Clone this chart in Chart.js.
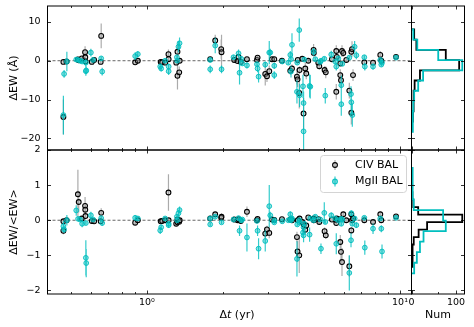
<!DOCTYPE html>
<html><head><meta charset="utf-8">
<script src="https://cdn.jsdelivr.net/npm/chart.js@4"></script>
<style>
html,body{margin:0;padding:0;background:#fff;}
#wrap{position:relative;width:474px;height:327px;overflow:hidden;}
canvas{position:absolute;left:0;top:0;}
</style></head><body>
<div id="wrap">
<canvas id="cTop" width="474" height="327"></canvas>
<canvas id="cBot" width="474" height="327"></canvas>
<canvas id="hTop" width="474" height="327"></canvas>
<canvas id="hBot" width="474" height="327"></canvas>
</div>
<script>
// ---------------- data ----------------
const civT = [0.468,0.468,0.482,0.534,0.538,0.553,0.570,0.571,0.572,0.606,0.619,0.660,0.657,0.899,0.921,1.134,1.149,1.181,1.217,1.219,1.306,1.321,1.321,1.342,1.348,1.779,1.862,1.966,1.972,2.213,2.281,2.302,2.349,2.485,2.722,2.737,2.935,2.981,3.044,3.120,3.186,3.417,3.686,3.743,3.916,3.937,3.999,4.010,3.945,4.159,4.110,4.224,4.262,4.341,4.556,4.564,4.755,4.797,5.035,5.090,5.384,5.600,5.626,5.600,5.808,5.808,5.846,5.899,5.969,6.135,6.305,6.421,6.421,6.462,6.521,7.226,7.823,8.357,8.434,9.643];
const civEW = [-0.3,-14.5,-0.2,0.3,0.1,0.6,2.2,0.9,-0.2,-0.3,0.2,6.4,-0.3,-0.4,0.0,-0.3,-0.4,-0.5,1.7,0.4,-0.5,2.3,-3.9,-3.0,0.0,0.4,5.2,3.0,2.2,0.2,-0.1,1.0,-0.3,0.4,0.2,0.8,-3.4,-4.0,-2.7,0.4,0.4,0.0,-2.6,-2.0,-4.1,-4.8,-8.3,-2.4,0.2,-13.6,0.5,-2.0,-3.3,0.0,2.8,2.0,-0.5,-1.4,-2.4,-3.0,0.4,2.5,1.0,-8.0,-0.7,-3.7,-5.0,2.5,2.0,0.2,-7.7,2.3,-13.4,3.0,-3.7,-0.4,-0.5,1.5,0.0,1.0];
const civEWErr = [0.5,4.5,0.5,0.8,0.5,0.5,1.5,1.0,0.5,0.5,0.5,3.2,0.5,0.5,0.5,0.5,0.5,0.5,1.2,0.5,0.5,2.0,3.5,1.5,0.5,0.5,1.5,2.5,4.5,0.5,0.5,0.8,0.5,0.5,0.5,0.5,3.0,1.5,1.5,0.5,0.5,0.5,1.0,1.0,2.0,2.0,4.0,1.0,0.5,4.0,0.5,1.5,1.5,0.5,1.5,1.0,0.5,1.0,1.0,1.5,0.5,1.5,0.5,2.0,0.5,1.5,2.0,1.5,1.0,0.5,2.0,1.5,3.0,2.0,1.5,0.5,0.5,1.0,0.5,0.5];
const civFrac = [-0.03,-0.30,0.0,0.74,0.52,0.05,0.41,0.30,0.12,-0.02,-0.03,0.21,-0.03,-0.07,0.0,-0.03,-0.02,0.0,0.79,0.0,-0.10,0.02,-0.06,-0.04,0.0,0.05,0.17,0.07,0.10,0.02,0.0,0.03,-0.02,0.24,0.0,0.04,-0.38,-0.26,-0.36,0.02,0.01,0.03,0.02,0.0,-0.48,-0.89,-1.00,0.05,0.0,-0.12,-0.05,-0.27,-0.15,0.08,0.05,0.0,0.03,-0.05,-0.31,-0.43,0.02,0.0,0.05,-0.08,0.03,-0.62,-0.90,-1.19,0.17,0.0,-1.31,-0.29,0.17,0.0,0.05,0.0,-0.05,0.17,0.0,0.11];
const civFracErr = [0.05,0.10,0.05,0.70,0.30,0.05,0.25,0.20,0.10,0.05,0.05,0.13,0.05,0.05,0.05,0.05,0.05,0.05,0.52,0.05,0.05,0.05,0.06,0.05,0.05,0.05,0.06,0.08,0.10,0.04,0.04,0.04,0.04,0.15,0.04,0.04,0.15,0.10,0.15,0.04,0.04,0.04,0.04,0.04,0.15,0.30,0.50,0.05,0.04,0.08,0.04,0.10,0.08,0.05,0.05,0.04,0.04,0.05,0.10,0.10,0.04,0.05,0.05,0.06,0.04,0.20,0.30,0.40,0.08,0.04,0.30,0.10,0.08,0.05,0.05,0.04,0.04,0.08,0.04,0.05];

const mgT = [0.468,0.471,0.483,0.526,0.535,0.545,0.555,0.574,0.574,0.576,0.601,0.613,0.660,0.666,0.899,0.921,1.129,1.139,1.181,1.219,1.219,1.314,1.318,1.333,1.346,1.779,1.779,1.862,1.972,2.199,2.302,2.323,2.359,2.381,2.485,2.722,2.737,2.762,2.935,3.044,3.072,3.186,3.186,3.426,3.619,3.686,3.709,3.709,3.743,3.916,3.927,3.999,4.010,4.137,4.159,4.159,4.186,4.393,4.421,4.556,4.627,4.842,4.872,5.021,5.067,5.350,5.548,5.600,5.703,5.861,5.861,5.915,6.305,6.403,6.421,6.480,6.617,6.721,7.226,7.259,7.823,8.357,8.434,8.489,9.643];
const mgEW = [-14.0,-3.4,-0.2,0.3,0.2,0.0,-0.2,-0.5,-2.7,-2.5,2.1,0.2,0.6,-2.8,1.2,1.7,-1.5,-2.0,0.0,-1.5,-2.7,0.9,0.0,3.6,4.5,0.2,-2.2,3.9,-2.2,0.9,1.9,-3.1,0.5,-0.7,-1.2,-0.9,-2.0,-4.1,-1.0,2.1,2.1,-1.3,-3.7,-0.2,-0.5,1.5,0.4,-2.8,4.1,-8.0,-0.5,7.9,-8.9,-6.6,-10.9,-18.2,0.3,-6.5,-6.7,2.3,0.4,-0.3,0.0,0.5,-9.0,1.6,-0.2,-1.5,0.6,-6.3,-11.2,-0.8,0.8,-8.6,-10.7,-14.0,3.6,1.4,0.9,-1.5,-1.5,0.2,-1.0,-0.5,0.8];
const mgEWErr = [5.0,1.0,2.5,0.5,0.5,0.5,0.5,1.0,1.2,1.0,1.0,0.5,0.5,1.0,1.0,0.8,0.8,0.8,0.5,0.8,1.0,0.5,0.5,1.5,1.5,0.5,1.0,2.0,1.0,0.5,1.0,3.0,0.5,0.5,0.8,0.5,1.0,1.5,0.8,3.0,1.0,0.8,1.0,0.5,0.5,1.0,0.5,1.5,3.0,3.0,0.5,3.0,3.0,3.0,3.0,5.0,0.5,3.0,3.0,1.0,0.5,0.5,0.5,0.5,2.0,1.0,0.5,1.0,0.5,2.5,3.0,0.5,0.5,2.0,3.0,3.0,1.5,1.0,0.5,1.0,0.8,0.5,0.5,0.5,0.5];
const mgFrac = [-0.17,-0.26,0.0,0.28,0.04,0.02,-0.10,-0.08,-1.07,-1.22,0.14,0.02,0.06,-0.08,0.07,0.05,-0.29,-0.20,0.05,-0.10,-0.14,0.10,0.0,0.20,0.29,0.05,-0.12,0.10,-0.06,0.02,0.06,-0.30,0.0,0.02,-0.49,-0.02,-0.30,-0.81,-0.59,0.40,0.14,-0.06,0.0,-0.03,0.0,0.17,0.05,0.0,0.05,-1.10,-0.12,0.0,-0.06,-0.35,-0.43,-0.20,-0.10,-0.41,0.05,0.0,0.10,0.02,-0.81,0.21,-0.05,0.14,0.05,-0.67,0.0,-0.10,0.04,0.02,-1.50,-0.57,0.20,-0.10,0.05,-0.14,0.07,-0.78,-0.24,0.05,-0.24,-0.89,0.07];
const mgFracErr = [0.15,0.10,0.15,0.15,0.05,0.05,0.10,0.05,0.50,0.40,0.10,0.05,0.05,0.08,0.08,0.05,0.10,0.08,0.05,0.05,0.08,0.05,0.05,0.10,0.10,0.05,0.05,0.05,0.05,0.04,0.05,0.15,0.04,0.04,0.40,0.04,0.15,0.30,0.30,0.60,0.10,0.05,0.05,0.04,0.04,0.08,0.05,0.05,0.05,0.50,0.06,0.05,0.05,0.15,0.20,0.10,0.06,0.20,0.05,0.05,0.05,0.04,0.15,0.30,0.05,0.08,0.05,0.30,0.04,0.06,0.05,0.04,0.50,0.20,0.08,0.06,0.05,0.08,0.05,0.20,0.15,0.05,0.10,0.20,0.05];

// histogram bins (edges) and counts
const ewEdges = [-18.3,-15.66,-13.02,-10.38,-7.74,-5.1,-2.46,0.18,2.82,5.46,8.1];
const civEWCounts = [0,3,4,5,7,19,107,77,11,6];
const mgEWCounts = [3,3,4,6,15,26,114,60,13,4];
const civFracEdges = [-1.33,-1.117,-0.904,-0.691,-0.478,-0.265,-0.052,0.161,0.374,0.587,0.8];
const civFracCounts = [2,2,3,5,16,35,114,15,4,2];
const mgFracEdges = [-1.51,-1.21,-0.91,-0.61,-0.31,-0.01,0.29,0.59,0.89,1.19,1.49];
const mgFracCounts = [6,12,19,27,77,71,5,3,3,2];

// axes / ticks
const xTickVals = [0.5,0.6,0.7,0.8,0.9,1,2,3,4,5,6,7,8,9,10];
const xMajor = [1,10];
const xTickLabels = {1:'10⁰', 10:'10¹'};
const ewTicks = [-20,-10,0,10];
const fracTicks = [-2,-1,0,1,2];
const numTicks = [0,59.5,100];
const numTickLabels = {0:'0', 100:'100'};

// ---------------- drawing ----------------
const FONT = "'DejaVu Sans', sans-serif";
const X_MIN = 0.405, X_MAX = 11.1;
const EW_MIN = -23.0, EW_MAX = 14.1;
const FR_MIN = -2.1, FR_MAX = 2.0;
const NUM_MAX = 119;
const CY = 'rgb(0,191,191)';

function pts(xs, ys){ return xs.map((x,i)=>({x:x, y:ys[i]})); }
function errSegs(xs, ys, es){
  const out=[];
  xs.forEach((x,i)=>{ out.push({x:x,y:ys[i]-es[i]},{x:x,y:ys[i]+es[i]},{x:x,y:null}); });
  return out;
}
function stepOutline(edges, counts){
  const out=[{x:0,y:edges[0]}];
  counts.forEach((c,i)=>{ out.push({x:c,y:edges[i]},{x:c,y:edges[i+1]}); });
  out.push({x:0,y:edges[edges.length-1]});
  return out;
}
function fmtY(v){ return v<0 ? '\u2212'+Math.abs(v) : String(v); }

function frameTicks(xt, xmaj, yt, ymaj){
  return {
    id:'frameTicks',
    afterDraw(chart){
      const ctx=chart.ctx, a=chart.chartArea, xs=chart.scales.x, ys=chart.scales.y;
      ctx.save();
      ctx.strokeStyle='#000'; ctx.lineWidth=0.8;
      const ln=(x1,y1,x2,y2)=>{ctx.beginPath();ctx.moveTo(x1,y1);ctx.lineTo(x2,y2);ctx.stroke();};
      xt.forEach(v=>{
        const p=Math.round(xs.getPixelForValue(v))+0.5;
        if(p<a.left-1||p>a.right+1) return;
        const L = xmaj.includes(v)?3.5:2;
        ln(p,a.bottom,p,a.bottom-L); ln(p,a.top,p,a.top+L);
      });
      yt.forEach(v=>{
        const p=Math.round(ys.getPixelForValue(v))+0.5;
        if(p<a.top-1||p>a.bottom+1) return;
        const L = ymaj.includes(v)?3.5:2;
        ln(a.left,p,a.left+L,p); ln(a.right,p,a.right-L,p);
      });
      ctx.lineWidth=1;
      ctx.strokeRect(a.left,a.top,a.right-a.left,a.bottom-a.top);
      ctx.restore();
    }
  };
}

const legendPlugin = {
  id:'boxLegend',
  afterDraw(chart){
    const ctx=chart.ctx;
    ctx.save();
    const x0=320.5,y0=155.5,w=86,h=37,r=3;
    ctx.beginPath();
    ctx.moveTo(x0+r,y0);ctx.lineTo(x0+w-r,y0);ctx.quadraticCurveTo(x0+w,y0,x0+w,y0+r);
    ctx.lineTo(x0+w,y0+h-r);ctx.quadraticCurveTo(x0+w,y0+h,x0+w-r,y0+h);
    ctx.lineTo(x0+r,y0+h);ctx.quadraticCurveTo(x0,y0+h,x0,y0+h-r);
    ctx.lineTo(x0,y0+r);ctx.quadraticCurveTo(x0,y0,x0+r,y0);ctx.closePath();
    ctx.fillStyle='rgba(255,255,255,0.8)';ctx.fill();
    ctx.strokeStyle='#d4d4d4';ctx.lineWidth=1;ctx.stroke();
    const items=[
      {y:165,bar:'rgba(0,0,0,0.33)',fill:'rgba(160,160,160,0.4)',edge:'#000',text:'CIV BAL'},
      {y:181.5,bar:'rgba(0,191,191,0.8)',fill:'rgba(0,191,191,0.45)',edge:'rgba(0,191,191,0.9)',text:'MgII BAL'}
    ];
    items.forEach(it=>{
      ctx.strokeStyle=it.bar;ctx.lineWidth=1.2;
      ctx.beginPath();ctx.moveTo(335,it.y-5);ctx.lineTo(335,it.y+5);ctx.stroke();
      ctx.beginPath();ctx.arc(335,it.y,2.4,0,Math.PI*2);
      ctx.fillStyle=it.fill;ctx.fill();ctx.strokeStyle=it.edge;ctx.lineWidth=1.1;ctx.stroke();
      ctx.fillStyle='#000';ctx.font='11px '+FONT;ctx.textBaseline='middle';ctx.textAlign='left';
      ctx.fillText(it.text,355,it.y);
    });
    ctx.restore();
  }
};

const xTitlePlugin = {
  id:'xTitle',
  afterDraw(chart){
    const ctx=chart.ctx;
    const parts=[{t:'\u0394',it:false},{t:'t',it:true},{t:' (yr)',it:false}];
    ctx.save();ctx.fillStyle='#000';ctx.textBaseline='middle';ctx.textAlign='left';
    const widths=parts.map(p=>{ctx.font=(p.it?'italic ':'')+'11px '+FONT;return ctx.measureText(p.t).width;});
    let x=237-widths.reduce((a,b)=>a+b,0)/2;
    parts.forEach((p,i)=>{ctx.font=(p.it?'italic ':'')+'11px '+FONT;ctx.fillText(p.t,x,315);x+=widths[i];});
    ctx.restore();
  }
};

function mainChart(id, c){
  const ds=[
    {data:pts(mgT,c.mgY),pointRadius:2.4,pointBorderWidth:1,pointBackgroundColor:'rgba(0,191,191,0.45)',pointBorderColor:'rgba(0,191,191,0.9)'},
    {data:errSegs(mgT,c.mgY,c.mgE),showLine:true,spanGaps:false,pointRadius:0,borderColor:'rgba(0,191,191,0.8)',borderWidth:1.2},
    {data:pts(civT,c.civY),pointRadius:2.4,pointBorderWidth:1.1,pointBackgroundColor:'rgba(160,160,160,0.4)',pointBorderColor:'#000'},
    {data:errSegs(civT,c.civY,c.civE),showLine:true,spanGaps:false,pointRadius:0,borderColor:'rgba(0,0,0,0.33)',borderWidth:1.2},
    {data:[{x:X_MIN,y:0},{x:X_MAX,y:0}],showLine:true,pointRadius:0,borderColor:'#666',borderWidth:1,borderDash:[3,2]}
  ];
  const plugins=[frameTicks(xTickVals,xMajor,c.yTicks,c.yTicks)].concat(c.extra||[]);
  return new Chart(document.getElementById(id),{
    type:'scatter',
    data:{datasets:ds},
    options:{
      responsive:false, animation:false, events:[],
      layout:{padding:c.padding},
      plugins:{legend:{display:false},tooltip:{enabled:false}},
      scales:{
        x:{type:'logarithmic',min:X_MIN,max:X_MAX,display:c.showX,
           grid:{display:false,drawTicks:false},border:{display:false},
           afterBuildTicks:(s)=>{s.ticks=xTickVals.map(v=>({value:v}));},
           ticks:{autoSkip:false,maxRotation:0,minRotation:0,padding:3,color:'#000',font:{family:FONT,size:9.5},
                  callback:(v)=>xTickLabels[v]||''},
           afterFit:(s)=>{ if(c.showX) s.height=33; s.paddingLeft=0; s.paddingRight=0; }},
        y:{type:'linear',min:c.yMin,max:c.yMax,
           grid:{display:false,drawTicks:false},border:{display:false},
           afterBuildTicks:(s)=>{s.ticks=c.yTicks.map(v=>({value:v}));},
           ticks:{padding:7,color:'#000',font:{family:FONT,size:9.5},callback:(v)=>fmtY(v)},
           title:{display:true,text:c.yTitle,color:'#000',font:{family:FONT,size:11},padding:{top:8,bottom:0}},
           afterFit:(s)=>{ s.width=47.5; s.paddingTop=0; s.paddingBottom=0; }}
      }
    },
    plugins:plugins
  });
}

function histChart(id, c){
  const ds=[
    {data:stepOutline(c.mgEdges,c.mgCounts),showLine:true,pointRadius:0,borderColor:CY,borderWidth:1.8,tension:0},
    {data:stepOutline(c.civEdges,c.civCounts),showLine:true,pointRadius:0,borderColor:'#000',borderWidth:1.8,tension:0}
  ];
  return new Chart(document.getElementById(id),{
    type:'scatter',
    data:{datasets:ds},
    options:{
      responsive:false, animation:false, events:[],
      layout:{padding:c.padding},
      plugins:{legend:{display:false},tooltip:{enabled:false}},
      scales:{
        x:{type:'linear',min:0,max:NUM_MAX,display:c.showX,
           grid:{display:false,drawTicks:false},border:{display:false},
           afterBuildTicks:(s)=>{s.ticks=numTicks.map(v=>({value:v}));},
           ticks:{autoSkip:false,maxRotation:0,minRotation:0,padding:3,color:'#000',font:{family:FONT,size:9.5},
                  callback:(v)=>numTickLabels[v]||''},
           title:{display:true,text:'Num',color:'#000',font:{family:FONT,size:11},padding:{top:0,bottom:5.5}},
           afterFit:(s)=>{ if(c.showX) s.height=33; s.paddingLeft=0; s.paddingRight=0; }},
        y:{type:'linear',min:c.yMin,max:c.yMax,display:false}
      }
    },
    plugins:[frameTicks(numTicks,[0,100],c.yTicks,c.yTicks)]
  });
}

mainChart('cTop',{civY:civEW,civE:civEWErr,mgY:mgEW,mgE:mgEWErr,yMin:EW_MIN,yMax:EW_MAX,yTicks:ewTicks,
  yTitle:'\u0394EW (\u00C5)',showX:false,padding:{left:0,right:62.5,top:6,bottom:177}});
mainChart('cBot',{civY:civFrac,civE:civFracErr,mgY:mgFrac,mgE:mgFracErr,yMin:FR_MIN,yMax:FR_MAX,yTicks:fracTicks,
  yTitle:'\u0394EW/<EW>',showX:true,padding:{left:0,right:62.5,top:150,bottom:0},extra:[legendPlugin,xTitlePlugin]});
histChart('hTop',{civEdges:ewEdges,civCounts:civEWCounts,mgEdges:ewEdges,mgCounts:mgEWCounts,yMin:EW_MIN,yMax:EW_MAX,yTicks:ewTicks,
  showX:false,padding:{left:411.5,right:9.5,top:6,bottom:177}});
histChart('hBot',{civEdges:civFracEdges,civCounts:civFracCounts,mgEdges:mgFracEdges,mgCounts:mgFracCounts,yMin:FR_MIN,yMax:FR_MAX,yTicks:fracTicks,
  showX:true,padding:{left:411.5,right:9.5,top:150,bottom:0}});
</script>
</body></html>
